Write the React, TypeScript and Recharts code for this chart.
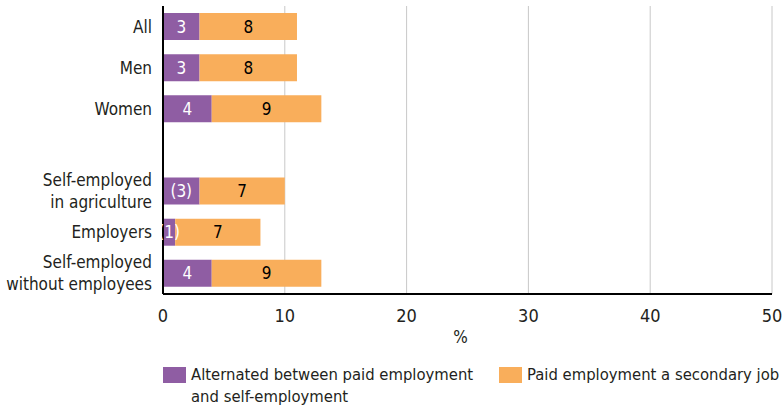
import React from "react";
import { BarChart, Bar, XAxis, YAxis, CartesianGrid, Legend, LabelList } from "recharts";

const categories = ["All", "Men", "Women", "", "Self-employed\nin agriculture", "Employers", "Self-employed\nwithout employees"];
const alternated = [3, 3, 4, null, 3, 1, 4];
const secondary = [8, 8, 9, null, 7, 7, 9];
const alternatedLabels = ["3", "3", "4", "", "(3)", "(1)", "4"];
const secondaryLabels = ["8", "8", "9", "", "7", "7", "9"];
const xTicks = [0, 10, 20, 30, 40, 50];
const seriesNames = ["Alternated between paid employment\nand self-employment", "Paid employment a secondary job"];

const PURPLE = "#8F5DA3";
const ORANGE = "#F9AE5B";
const FONT = "'Liberation Sans Narrow', 'DejaVu Sans Condensed', 'Roboto Condensed', Arial, sans-serif";
const TEXT = "#231F20";

const data = categories.map((c, i) => ({
  name: c,
  alt: alternated[i],
  sec: secondary[i],
  altLabel: alternatedLabels[i],
  secLabel: secondaryLabels[i],
}));

const YTick = (props: any) => {
  const { x, y, payload } = props;
  const lines = String(payload.value).split("\n");
  const lh = 22;
  const start = y - ((lines.length - 1) * lh) / 2;
  return (
    <text x={x} y={start} textAnchor="end" fontSize={17} fill={TEXT} fontFamily={FONT} dominantBaseline="central">
      {lines.map((l, i) => (
        <tspan key={i} x={x} y={start + i * lh} dominantBaseline="central">
          {l}
        </tspan>
      ))}
    </text>
  );
};

const PercentLabel = (props: any) => {
  const { viewBox } = props;
  const cx = viewBox.x + viewBox.width / 2 - 7;
  const y = viewBox.y + viewBox.height - 12;
  return (
    <text x={cx} y={y} textAnchor="middle" fontSize={17} fill={TEXT} fontFamily={FONT} dominantBaseline="central">
      %
    </text>
  );
};

const LegendContent = () => {
  const item = (color: string, label: string, left: number) => (
    <div style={{ position: "absolute", left, top: 15, display: "flex", alignItems: "flex-start" }}>
      <div style={{ width: 23, height: 16, background: color, marginTop: 3 }} />
      <div style={{ marginLeft: 5, fontSize: 16.5, lineHeight: "22px", color: TEXT, fontFamily: FONT, whiteSpace: "pre" }}>
        {label}
      </div>
    </div>
  );
  return (
    <div style={{ position: "relative", width: 783, height: 60 }}>
      {item(PURPLE, seriesNames[0], 163)}
      {item(ORANGE, seriesNames[1], 499)}
    </div>
  );
};

export default function App() {
  return (
    <div style={{ position: "absolute", left: 0, top: 0, width: 783, height: 409, background: "#fff" }}>
      <BarChart
        width={783}
        height={409}
        data={data}
        layout="vertical"
        margin={{ top: 6, right: 11, bottom: 0, left: 0 }}
        barCategoryGap="17%"
      >
        <CartesianGrid horizontal={false} stroke="#C8C8C8" strokeWidth={1} />
        <XAxis
          type="number"
          domain={[0, 50]}
          ticks={xTicks}
          tickLine={false}
          axisLine={{ stroke: "#000", strokeWidth: 2 }}
          tick={{ fontSize: 18, fill: TEXT, fontFamily: FONT }}
          tickMargin={9}
          height={55}
          label={<PercentLabel />}
        />
        <YAxis
          type="category"
          dataKey="name"
          width={163}
          tickLine={false}
          tickSize={0}
          tickMargin={11}
          axisLine={{ stroke: "#000", strokeWidth: 2 }}
          tick={<YTick />}
          interval={0}
        />
        <Legend verticalAlign="bottom" content={<LegendContent />} wrapperStyle={{ left: 0, top: 349, width: 783, height: 60 }} />
        <Bar dataKey="alt" stackId="a" fill={PURPLE} isAnimationActive={false}>
          <LabelList dataKey="altLabel" position="center" fill="#FFFFFF" fontSize={17} fontFamily={FONT} />
        </Bar>
        <Bar dataKey="sec" stackId="a" fill={ORANGE} isAnimationActive={false}>
          <LabelList dataKey="secLabel" position="center" fill="#000000" fontSize={17} fontFamily={FONT} />
        </Bar>
      </BarChart>
    </div>
  );
}
